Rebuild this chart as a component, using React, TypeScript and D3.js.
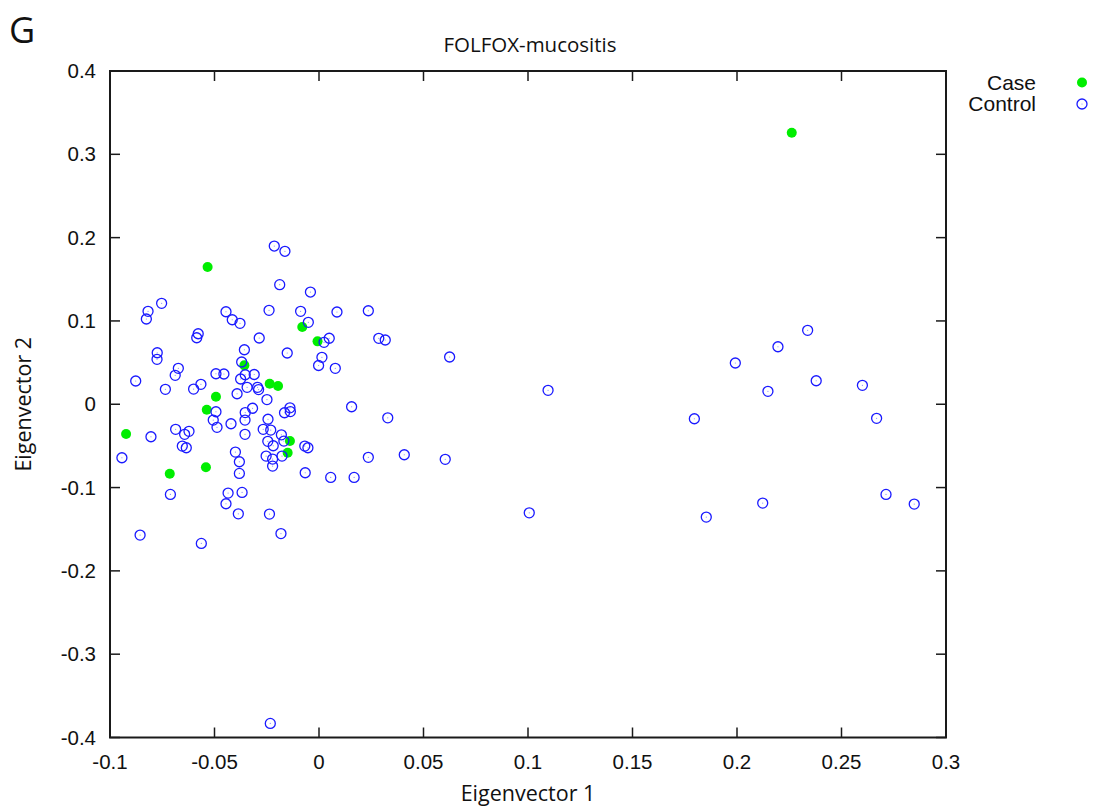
import React from "react";
import * as d3 from "d3";

const caseX = [-0.0533, -0.008, -0.0007, -0.0357, -0.0236, -0.0196, -0.0493, -0.0537, -0.0923, -0.0139, -0.015, -0.0714, -0.0541, 0.2262];
const caseY = [0.1647, 0.0927, 0.0755, 0.0467, 0.0246, 0.0218, 0.009, -0.0066, -0.0358, -0.0442, -0.0582, -0.0834, -0.0757, 0.3259];

const controlX = [
  -0.0214, -0.0163, -0.0188, -0.0041, -0.0753, -0.0818, -0.0826, -0.0445, -0.0415, -0.0378,
  -0.0239, -0.0088, 0.0086, 0.0236, -0.0051, -0.0578, -0.0585, -0.0286, 0.0024, 0.0049,
  0.0286, 0.0317, -0.0774, -0.0775, -0.0357, -0.0152, 0.0014, -0.0002, 0.0078, 0.0625,
  -0.037, -0.0673, -0.0688, -0.0877, -0.0735, -0.06, -0.0565, -0.0493, -0.0455, -0.0375,
  -0.0353, -0.031, -0.0344, -0.0294, -0.0289, -0.0392, -0.0249, -0.0493, 0.0156, -0.0353,
  -0.0318, -0.0165, -0.0139, -0.0137, 0.0329, -0.0244, -0.0506, -0.0488, -0.0354, -0.0421,
  -0.0354, -0.0267, -0.0231, -0.0804, -0.0686, -0.0643, -0.0622, -0.0654, -0.0635, -0.0943,
  -0.0711, -0.04, -0.0381, -0.0381, -0.0435, -0.0368, -0.0445, -0.0386, -0.0237, -0.0856,
  -0.0563, -0.0182, -0.0245, -0.0219, -0.018, -0.0168, -0.0253, -0.0222, -0.0222, -0.0177,
  -0.0068, -0.0053, -0.0066, 0.0056, 0.0168, 0.0236, 0.0408, 0.0604, -0.0233,
  0.1096, 0.1006, 0.1796, 0.1853, 0.1992, 0.2196, 0.2338, 0.2148, 0.2379, 0.26,
  0.2668, 0.2123, 0.2713, 0.2848,
];
const controlY = [
  0.1899, 0.1836, 0.1435, 0.1347, 0.1211, 0.1115, 0.1023, 0.111, 0.1014, 0.0971,
  0.1127, 0.1115, 0.1107, 0.1122, 0.0983, 0.0846, 0.0798, 0.0795, 0.0743, 0.0792,
  0.0791, 0.0771, 0.0618, 0.0539, 0.0654, 0.0615, 0.0563, 0.0465, 0.0431, 0.0567,
  0.0507, 0.0431, 0.0347, 0.0279, 0.0179, 0.0182, 0.0239, 0.0366, 0.0363, 0.0303,
  0.0354, 0.0357, 0.0203, 0.0203, 0.0176, 0.0126, 0.0056, -0.009, -0.003, -0.01,
  -0.0048, -0.0102, -0.0043, -0.0088, -0.0163, -0.018, -0.019, -0.0277, -0.019, -0.0234,
  -0.0361, -0.0301, -0.031, -0.039, -0.0301, -0.0361, -0.0325, -0.0502, -0.0522, -0.0642,
  -0.1082, -0.0574, -0.069, -0.083, -0.1066, -0.1058, -0.1194, -0.1315, -0.1318, -0.157,
  -0.167, -0.1552, -0.0445, -0.0498, -0.0367, -0.0442, -0.0622, -0.0658, -0.0742, -0.0622,
  -0.0502, -0.0522, -0.0822, -0.0878, -0.0878, -0.0637, -0.0606, -0.0661, -0.3831,
  0.0167, -0.1303, -0.0174, -0.1354, 0.0495, 0.069, 0.0887, 0.0155, 0.0282, 0.0227,
  -0.0169, -0.1186, -0.1082, -0.1198,
];

const xTicks = [-0.1, -0.05, 0, 0.05, 0.1, 0.15, 0.2, 0.25, 0.3];
const xTickLabels = ["-0.1", "-0.05", "0", "0.05", "0.1", "0.15", "0.2", "0.25", "0.3"];
const yTicks = [0.4, 0.3, 0.2, 0.1, 0, -0.1, -0.2, -0.3, -0.4];
const yTickLabels = ["0.4", "0.3", "0.2", "0.1", "0", "-0.1", "-0.2", "-0.3", "-0.4"];
const legendLabels = ["Case", "Control"];

const W = 1094;
const H = 807;
const L = 110, R = 946, T = 71, B = 737.5;

export default function App() {
  const x = d3.scaleLinear().domain([-0.1, 0.3]).range([L, R]);
  const y = d3.scaleLinear().domain([-0.4, 0.4]).range([B, T]);
  const tickLen = 10;
  const axisColor = "#1a1a1a";
  const green = "#00ee00";
  const blue = "#1a1aff";
  const tickFont = "'Liberation Sans', Arial, Helvetica, sans-serif";
  const labelFont = "'Open Sans', sans-serif";

  return (
    <div style={{ position: "absolute", left: 0, top: 0 }}>
      <svg width={W} height={H} style={{ display: "block", background: "#fff" }}>
        <rect x={0} y={0} width={W} height={H} fill="#fff" />
        <text x={9} y={43} fontFamily={labelFont} fontSize={36} fill="#111">G</text>
        <text x={(L + R) / 2 + 2} y={52} textAnchor="middle" fontFamily={labelFont} fontSize={20.5} fill="#111">
          FOLFOX-mucositis
        </text>

        {/* ticks */}
        {xTicks.map((t, i) => (
          <g key={"xt" + i}>
            <line x1={x(t)} x2={x(t)} y1={B} y2={B - tickLen} stroke={axisColor} strokeWidth={1.5} />
            <line x1={x(t)} x2={x(t)} y1={T} y2={T + tickLen} stroke={axisColor} strokeWidth={1.5} />
            <text x={x(t)} y={769} textAnchor="middle" fontFamily={tickFont} fontSize={20.5} fill="#111">
              {xTickLabels[i]}
            </text>
          </g>
        ))}
        {yTicks.map((t, i) => (
          <g key={"yt" + i}>
            <line x1={L} x2={L + tickLen} y1={y(t)} y2={y(t)} stroke={axisColor} strokeWidth={1.5} />
            <line x1={R} x2={R - tickLen} y1={y(t)} y2={y(t)} stroke={axisColor} strokeWidth={1.5} />
            <text x={96} y={y(t) + 7} textAnchor="end" fontFamily={tickFont} fontSize={20.5} fill="#111">
              {yTickLabels[i]}
            </text>
          </g>
        ))}
        <rect x={L} y={T} width={R - L} height={B - T} fill="none" stroke={axisColor} strokeWidth={2} />

        {/* points */}
        {caseX.map((v, i) => (
          <circle key={"c" + i} cx={x(v)} cy={y(caseY[i])} r={5} fill={green} />
        ))}
        {controlX.map((v, i) => (
          <g key={"k" + i}>
            <circle cx={x(v)} cy={y(controlY[i])} r={5} fill="none" stroke={blue} strokeWidth={1.3} />
            <circle cx={x(v)} cy={y(controlY[i])} r={0.6} fill={blue} opacity={0.5} />
          </g>
        ))}

        {/* axis labels */}
        <text x={(L + R) / 2} y={801} textAnchor="middle" fontFamily={labelFont} fontSize={21.5} fill="#111">
          Eigenvector 1
        </text>
        <text
          transform={`translate(31, ${(T + B) / 2}) rotate(-90)`}
          textAnchor="middle"
          fontFamily={labelFont}
          fontSize={21.5}
          fill="#111"
        >
          Eigenvector 2
        </text>

        {/* legend */}
        <text x={1036} y={89.5} textAnchor="end" fontFamily={tickFont} fontSize={21} fill="#111">{legendLabels[0]}</text>
        <circle cx={1082} cy={82.5} r={5} fill={green} />
        <text x={1036} y={111} textAnchor="end" fontFamily={tickFont} fontSize={21} fill="#111">{legendLabels[1]}</text>
        <circle cx={1082} cy={104} r={5} fill="none" stroke={blue} strokeWidth={1.3} />
        <circle cx={1082} cy={104} r={0.6} fill={blue} opacity={0.5} />
      </svg>
    </div>
  );
}
